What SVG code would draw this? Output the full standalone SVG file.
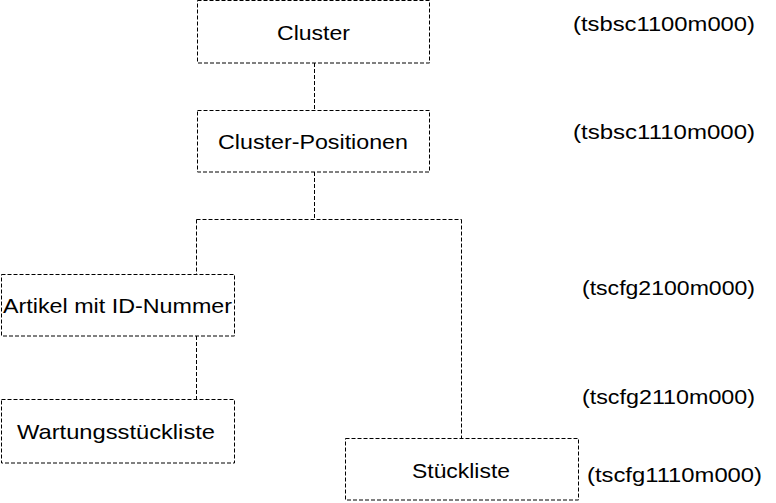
<svg xmlns="http://www.w3.org/2000/svg" width="776" height="503" viewBox="0 0 776 503">
<style>
.box{fill:#ffffff;stroke:#000000;stroke-width:1;stroke-dasharray:4 2;}
.con{fill:none;stroke:#000000;stroke-width:1;stroke-dasharray:4 2;}
.lbl{font-family:"Liberation Sans",Arial,sans-serif;font-size:21px;fill:#000000;text-anchor:middle;}
.code{font-family:"Liberation Sans",Arial,sans-serif;font-size:20px;fill:#000000;}
</style>
<rect width="776" height="503" fill="#ffffff"/>
<g id="connectors">
<line class="con" x1="314.5" y1="63" x2="314.5" y2="110"/>
<line class="con" x1="314.5" y1="172" x2="314.5" y2="219.5"/>
<line class="con" x1="196.5" y1="219.5" x2="461.5" y2="219.5"/>
<line class="con" x1="196.5" y1="219.5" x2="196.5" y2="274"/>
<line class="con" x1="461.5" y1="219.5" x2="461.5" y2="438"/>
<line class="con" x1="196.5" y1="336" x2="196.5" y2="399"/>
</g>
<g id="cluster">
<rect class="box" x="197.5" y="0.5" width="232" height="62.5"/>
<text class="lbl" x="313.5" y="39.5" textLength="73" lengthAdjust="spacingAndGlyphs">Cluster</text>
</g>
<g id="cluster-positionen">
<rect class="box" x="197.5" y="110.5" width="232" height="61.5"/>
<text class="lbl" x="313" y="148.5" textLength="190" lengthAdjust="spacingAndGlyphs">Cluster-Positionen</text>
</g>
<g id="artikel">
<rect class="box" x="1.5" y="274.5" width="233" height="61.5"/>
<text class="lbl" x="117.5" y="312.5" textLength="229" lengthAdjust="spacingAndGlyphs">Artikel mit ID-Nummer</text>
</g>
<g id="wartungsstueckliste">
<rect class="box" x="1.5" y="399.5" width="233" height="63.5"/>
<text class="lbl" x="116" y="438.5" textLength="198" lengthAdjust="spacingAndGlyphs">Wartungsstückliste</text>
</g>
<g id="stueckliste">
<rect class="box" x="345.5" y="438.5" width="233" height="61.5"/>
<text class="lbl" x="461" y="477.5" textLength="98" lengthAdjust="spacingAndGlyphs">Stückliste</text>
</g>
<g id="codes">
<text class="code" x="573" y="30.5" textLength="182" lengthAdjust="spacingAndGlyphs">(tsbsc1100m000)</text>
<text class="code" x="573" y="138.5" textLength="182" lengthAdjust="spacingAndGlyphs">(tsbsc1110m000)</text>
<text class="code" x="582" y="294.5" textLength="173" lengthAdjust="spacingAndGlyphs">(tscfg2100m000)</text>
<text class="code" x="582" y="403.5" textLength="173" lengthAdjust="spacingAndGlyphs">(tscfg2110m000)</text>
<text class="code" x="587" y="481.5" textLength="175" lengthAdjust="spacingAndGlyphs">(tscfg1110m000)</text>
</g>
</svg>
